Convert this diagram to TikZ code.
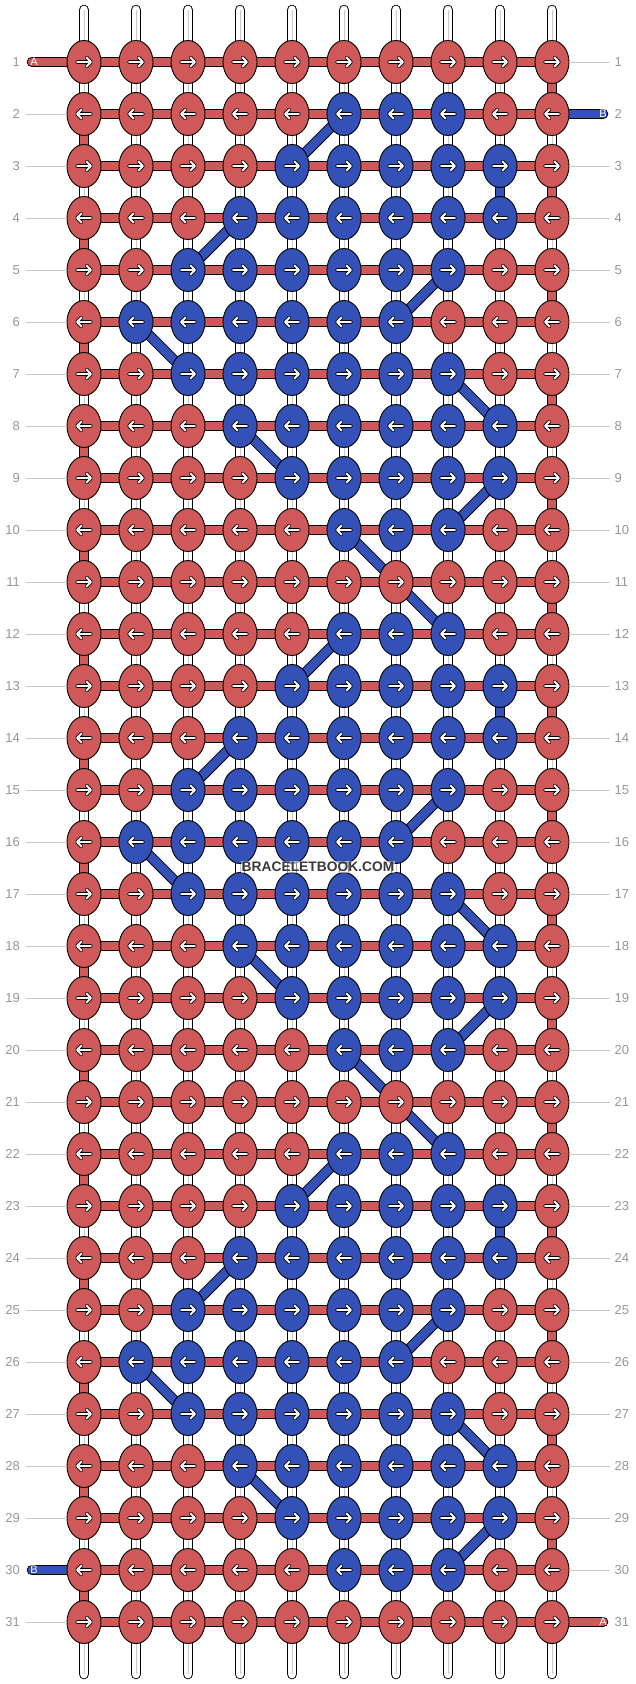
\documentclass[tikz,border=0pt]{standalone}
\usepackage{fontspec}
\setmainfont{Liberation Sans}
\usetikzlibrary{shapes.geometric,positioning}
\definecolor{knotred}{RGB}{207,89,89}
\definecolor{knotblue}{RGB}{51,81,183}
\definecolor{rowgray}{RGB}{150,150,150}
\definecolor{linegray}{RGB}{200,200,200}
\definecolor{markgray}{RGB}{58,58,58}
\pgfdeclarelayer{strings}
\pgfsetlayers{strings,main}
\tikzset{
  knot/.style={ellipse, draw=black, line width=0.9, minimum width=34, minimum height=43, inner sep=0},
  thread/.style={draw=black, line width=0.9, double distance=8.8, double=#1},
  rowlab/.style={text=rowgray, font=\fontsize{13}{13}\selectfont, inner sep=0},
  endlab/.style={text=white, font=\fontsize{11}{11}\selectfont, inner sep=0},
  rarr/.pic={
    \draw[line width=3.6, line cap=round, line join=round] (-7,0) -- (6.5,0) (2.6,-4.4) -- (7,0) -- (2.6,4.4);
    \draw[white, line width=1.8, line cap=round, line join=round] (-7,0) -- (6.5,0) (2.6,-4.4) -- (7,0) -- (2.6,4.4);
  },
  larr/.pic={
    \draw[line width=3.6, line cap=round, line join=round] (7,0) -- (-6.5,0) (-2.6,-4.4) -- (-7,0) -- (-2.6,4.4);
    \draw[white, line width=1.8, line cap=round, line join=round] (7,0) -- (-6.5,0) (-2.6,-4.4) -- (-7,0) -- (-2.6,4.4);
  }
}
\begin{document}
\begin{tikzpicture}[x=1pt,y=-1pt]
\useasboundingbox (0,0) rectangle (636,1684);

\foreach \r/\lo/\hi in {1/11/0, 2/6/8, 3/5/9, 4/4/9, 5/3/8, 6/2/7, 7/3/8, 8/4/9, 9/5/9, 10/6/8,
                        11/11/0, 12/6/8, 13/5/9, 14/4/9, 15/3/8, 16/2/7, 17/3/8, 18/4/9, 19/5/9, 20/6/8,
                        21/11/0, 22/6/8, 23/5/9, 24/4/9, 25/3/8, 26/2/7, 27/3/8, 28/4/9, 29/5/9, 30/6/8,
                        31/11/0}{
  \foreach \c in {1,...,10}{
    \def\kc{knotred}
    \ifnum\c<\lo\else\ifnum\c>\hi\else\def\kc{knotblue}\fi\fi
    \node[knot, fill=\kc] (k\r-\c) at ({84+52*(\c-1)},{62+52*(\r-1)}) {};
    \ifodd\r
      \pic at (k\r-\c) {rarr};
    \else
      \pic at (k\r-\c) {larr};
    \fi
  }
}

\begin{pgfonlayer}{strings}
  \foreach \c in {1,...,10}{
    \coordinate (top\c) at ({84+52*(\c-1)},10);
    \coordinate (bot\c) at ({84+52*(\c-1)},1674);
    \draw[thread=white, line cap=round] (top\c) -- (bot\c);
    \draw[linegray, line width=1] (top\c) -- (bot\c);
  }

  \foreach \r in {1,...,31}
    \foreach \c [count=\d from 2] in {1,...,9}
      \draw[thread=knotred] (k\r-\c.center) -- (k\r-\d.center);

  \foreach \r [evaluate=\r as \s using int(\r+1)] in {2,4,...,30}
    \draw[thread=knotred] (k\r-1.center) -- (k\s-1.center);
  \foreach \r [evaluate=\r as \s using int(\r+1)] in {1,3,...,29}
    \draw[thread=knotred] (k\r-10.center) -- (k\s-10.center);

  \foreach \a/\b in {k2-6/k3-5, k3-9/k4-9, k4-4/k5-3, k5-8/k6-7, k6-2/k7-3, k7-8/k8-9, k8-4/k9-5, k9-9/k10-8, k10-6/k12-8,
                     k12-6/k13-5, k13-9/k14-9, k14-4/k15-3, k15-8/k16-7, k16-2/k17-3, k17-8/k18-9, k18-4/k19-5, k19-9/k20-8, k20-6/k22-8,
                     k22-6/k23-5, k23-9/k24-9, k24-4/k25-3, k25-8/k26-7, k26-2/k27-3, k27-8/k28-9, k28-4/k29-5, k29-9/k30-8}
    \draw[thread=knotblue] (\a.center) -- (\b.center);

  \coordinate (a-in) at (32,62);
  \coordinate (a-out) at (603,1622);
  \coordinate (b-in) at (603,114);
  \coordinate (b-out) at (32,1570);
  \draw[thread=knotred, line cap=round] (a-in) -- (k1-1.center);
  \draw[thread=knotred, line cap=round] (k31-10.center) -- (a-out);
  \draw[thread=knotblue, line cap=round] (b-in) -- (k2-10.center);
  \draw[thread=knotblue, line cap=round] (k30-1.center) -- (b-out);
\end{pgfonlayer}

\node[endlab] (a1) at (34,62) {A};
\node[endlab] (a2) at (603,1622) {A};
\node[endlab] (b1) at (603,114) {B};
\node[endlab] (b2) at (34,1570) {B};

\foreach \r in {1,...,31}{
  \node[rowlab, anchor=east, inner xsep=6] (ln\r) at (26,{62+52*(\r-1)}) {\r};
  \node[rowlab, anchor=west, inner xsep=4.5] (rn\r) at (610,{62+52*(\r-1)}) {\r};
}
\foreach \r in {2,...,29,31}
  \draw[linegray, line width=1] (ln\r) -- (k\r-1);
\foreach \r in {1,3,4,...,30}
  \draw[linegray, line width=1] (k\r-10) -- (rn\r);

\node[fill=white, fill opacity=0.55, text opacity=1, text=markgray, inner sep=1,
      font=\bfseries\fontsize{13.8}{14}\selectfont] (mark) at (318,867) {BRACELETBOOK.COM};
\end{tikzpicture}
\end{document}
